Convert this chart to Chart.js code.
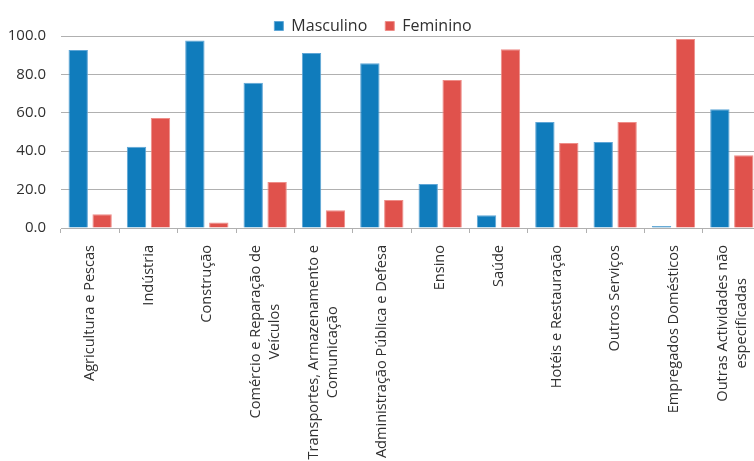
<!DOCTYPE html>
<html>
<head>
<meta charset="utf-8">
<script src="https://cdn.jsdelivr.net/npm/chart.js@4"></script>
<style>
  html, body { margin: 0; padding: 0; overflow: hidden; background: #fff; width: 754px; height: 461px; }
  #wrap { position: absolute; left: -15px; top: 0; width: 776px; height: 461px; }
</style>
</head>
<body>
<div id="wrap"><canvas id="chart" width="776" height="461"></canvas></div>
<script>
const categories = [
  'Agricultura e Pescas',
  'Indústria',
  'Construção',
  ['Comércio e Reparação de', 'Veículos'],
  ['Transportes, Armazenamento e', 'Comunicação'],
  'Administração Pública e Defesa',
  'Ensino',
  'Saúde',
  'Hotéis e Restauração',
  'Outros Serviços',
  'Empregados Domésticos',
  ['Outras Actividades não', 'especificadas']
];
const masculino = [92.7, 42.3, 97.6, 75.7, 91.1, 85.8, 22.9, 6.6, 55.2, 44.8, 1.0, 61.8];
const feminino = [7.1, 57.3, 2.8, 24.0, 9.2, 14.6, 77.1, 93.1, 44.3, 55.2, 98.4, 37.9];
const yTicks = [0, 20, 40, 60, 80, 100];

const FONT = '"Open Sans", "DejaVu Sans", sans-serif';
const TEXT = '#303030';
const GRID = '#b0b0b0';

// multi-line category labels are centred on each other, so draw them here
const centeredLabels = {
  id: 'centeredLabels',
  afterDraw(chart) {
    const scale = chart.scales.x;
    const ctx = chart.ctx;
    const lineH = 19;
    const squeeze = 0.97;
    const top = scale.top + 17;
    ctx.save();
    ctx.font = '15px ' + FONT;
    ctx.fillStyle = TEXT;
    ctx.textAlign = 'center';
    ctx.textBaseline = 'middle';
    categories.forEach((lab, i) => {
      const lines = Array.isArray(lab) ? lab : [lab];
      const w = Math.max(...lines.map(l => ctx.measureText(l).width));
      ctx.save();
      ctx.translate(scale.getPixelForTick(i), top);
      ctx.rotate(-Math.PI / 2);
      ctx.scale(squeeze, 1);
      lines.forEach((l, j) => {
        ctx.fillText(l, -w / 2, (j - (lines.length - 1) / 2) * lineH);
      });
      ctx.restore();
    });
    ctx.restore();
  }
};

new Chart(document.getElementById('chart'), {
  type: 'bar',
  data: {
    labels: categories,
    datasets: [
      { label: 'Masculino', data: masculino, backgroundColor: '#107cbc', borderColor: '#5fa6d6', borderWidth: 1 },
      { label: 'Feminino', data: feminino, backgroundColor: '#e0524c', borderColor: '#ee8d88', borderWidth: 1 }
    ]
  },
  options: {
    responsive: false,
    animation: false,
    categoryPercentage: 0.82,
    barPercentage: 0.81,
    layout: { padding: 0 },
    plugins: {
      legend: {
        position: 'top',
        maxHeight: 36,
        labels: { boxWidth: 9, boxHeight: 9, padding: 18, color: TEXT, font: { family: FONT, size: 16 } }
      },
      tooltip: { enabled: false }
    },
    scales: {
      x: {
        offset: true,
        grid: { drawOnChartArea: false, tickLength: 5, color: GRID, offset: true },
        border: { color: GRID },
        ticks: { display: false },
        afterFit: s => { s.height = 233; }
      },
      y: {
        min: 0,
        max: 100,
        afterBuildTicks: s => { s.ticks = yTicks.map(v => ({ value: v })); },
        ticks: { padding: 15, color: TEXT, font: { family: FONT, size: 15 }, callback: v => v.toFixed(1) },
        grid: { color: GRID, drawTicks: false },
        border: { display: false },
        afterFit: s => { s.width = 76; }
      }
    }
  },
  plugins: [centeredLabels]
});
</script>
</body>
</html>
